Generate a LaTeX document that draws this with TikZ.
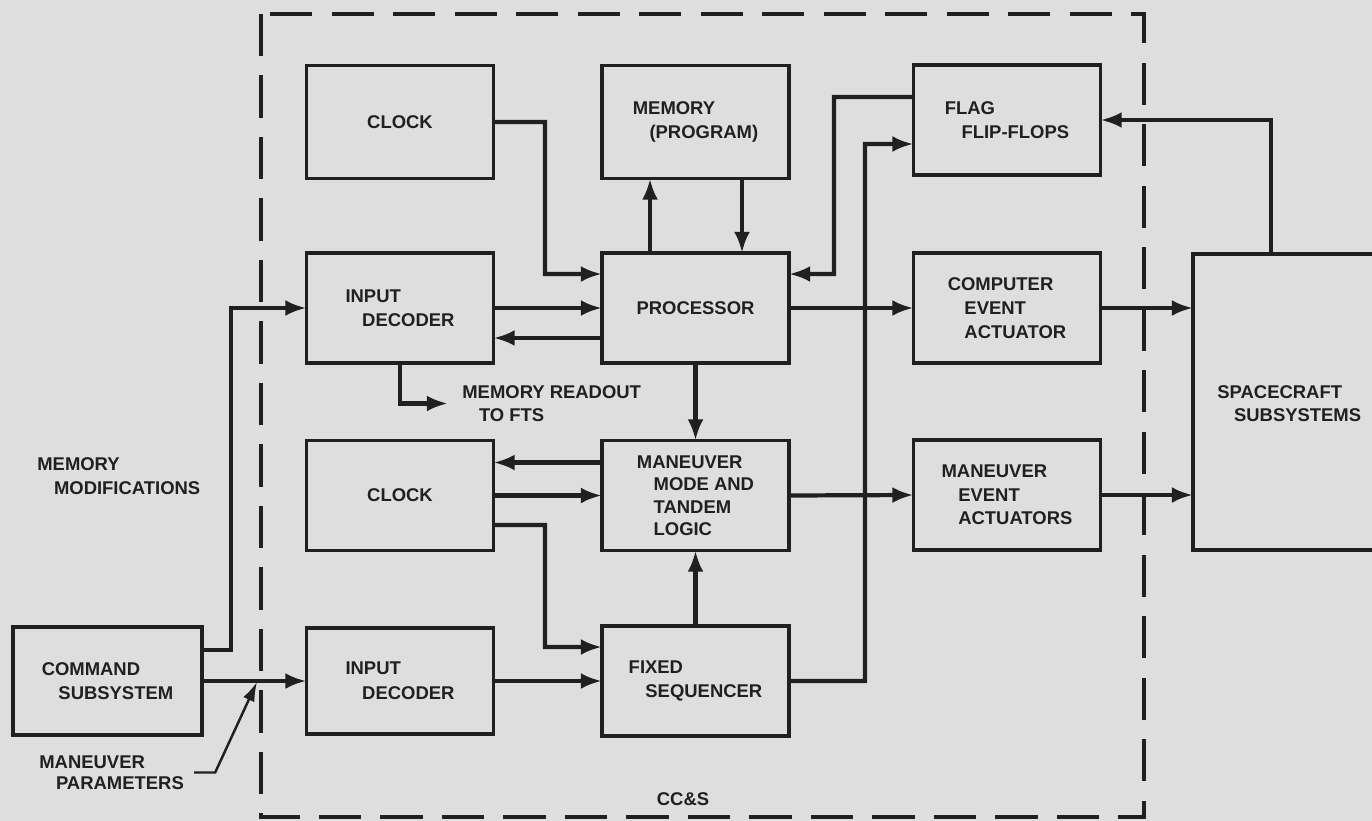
\documentclass[tikz,border=0pt]{standalone}
\usepackage{fontspec}
\setmainfont{Liberation Sans}
\usetikzlibrary{arrows.meta}
\definecolor{bg}{RGB}{222,222,222}
\definecolor{ink}{RGB}{32,32,32}
\newcommand{\myind}{\hspace*{9.5pt}}
\begin{document}
\begin{tikzpicture}[x=0.02cm, y=-0.02cm,
  box/.style={draw=ink, line width=2pt, minimum width=3.74cm, minimum height=2.2cm,
    inner sep=0pt, outer sep=0pt, text=ink, align=left,
    font=\bfseries\fontsize{10.5}{13.5}\selectfont},
  lbl/.style={text=ink, align=left, inner sep=0pt,
    font=\bfseries\fontsize{10.5}{13}\selectfont},
  arr/.style={draw=ink, line width=2.4pt, -{Latex[length=12pt,width=9pt]}},
  lead/.style={draw=ink, line width=1.4pt, -{Latex[length=11pt,width=7pt]}},
  cbound/.style={draw=ink, line width=1.8pt, dash pattern=on 24pt off 11pt}
]
\useasboundingbox (0,0) rectangle (1372,821);
\fill[bg] (0,0) rectangle (1372,821);
\clip (0,0) rectangle (1372,821);

% CC&S boundary
\draw[cbound] (261,14) rectangle (1144,817);

% boxes
\node[box, minimum height=2.26cm] (clock1) at (400,122) {CLOCK};
\node[box, minimum height=2.26cm] (mem) at (695.5,122) {MEMORY\\\myind(PROGRAM)};
\node[box] (flag) at (1007,120) {FLAG\\\myind FLIP-FLOPS};
\node[box] (dec1) at (400,308) {INPUT\\\myind DECODER};
\node[box] (proc) at (695.5,308) {PROCESSOR};
\node[box] (cea) at (1007,308) {COMPUTER\\\myind EVENT\\\myind ACTUATOR};
\node[box, minimum width=4.6cm, minimum height=5.92cm] (sc) at (1308,402) {};
\node[lbl, anchor=west] (sctxt) at (1217,403.5) {SPACECRAFT\\\myind SUBSYSTEMS};
\node[box] (clock2) at (400,495.5) {CLOCK};
\node[box, font=\bfseries\fontsize{10.5}{12.8}\selectfont] (man) at (695.5,495.5) {MANEUVER\\\myind MODE AND\\\myind TANDEM\\\myind LOGIC};
\node[box] (mea) at (1007,495) {MANEUVER\\\myind EVENT\\\myind ACTUATORS};
\node[box, minimum width=3.78cm, minimum height=2.16cm, font=\bfseries\fontsize{10.5}{14}\selectfont] (cmd) at (107.5,681) {COMMAND\\\myind SUBSYSTEM};
\node[box, minimum height=2.12cm, font=\bfseries\fontsize{10.5}{14}\selectfont] (dec2) at (400,681) {INPUT\\\myind DECODER};
\node[box, font=\bfseries\fontsize{10.5}{14}\selectfont] (fixed) at (695.5,681) {FIXED\\\myind SEQUENCER};

% free labels
\node[lbl, anchor=west, font=\bfseries\fontsize{10.5}{14}\selectfont] (mm) at (37,476) {MEMORY\\\myind MODIFICATIONS};
\node[lbl, anchor=west, font=\bfseries\fontsize{10.5}{12}\selectfont] (mp) at (39,772.5) {MANEUVER\\\myind PARAMETERS};
\node[lbl, anchor=west] (ro) at (462,403.5) {MEMORY READOUT\\\myind TO FTS};
\node[lbl] (ccs) at (683,799) {CC\&S};

% connectors
\draw[arr] (clock1.east) -| (545,274) -- ([yshift=0.68cm]proc.west);
\draw[arr] (dec1.east) -- (proc.west);
\draw[arr] ([yshift=-0.6cm]proc.west) -- ([yshift=-0.6cm]dec1.east);
\draw[arr] ([xshift=-0.91cm]proc.north) -- ([xshift=-0.91cm]mem.south);
\draw[arr] ([xshift=0.93cm]mem.south) -- ([xshift=0.93cm]proc.north);
\draw[arr] ([yshift=0.46cm]flag.west) -| (834,274) -- ([yshift=0.68cm]proc.east);
\draw[arr] (fixed.east) -| (865,144) -- ([yshift=-0.48cm]flag.west);
\draw[arr] (proc.east) -- (cea.west);
\draw[arr] (cea.east) -- (cea.east -| sc.west);
\draw[arr] ([xshift=-0.74cm]sc.north) |- (flag.east);
\draw[arr] (dec1.south) |- ([xshift=-0.28cm]ro.west);
\draw[arr] (proc.south) -- (man.north);
\draw[arr] ([yshift=0.66cm]man.west) -- ([yshift=0.66cm]clock2.east);
\draw[arr] (clock2.east) -- (man.west);
\draw[arr] ([yshift=-0.59cm]clock2.east) -| (545,647) -- ([yshift=0.68cm]fixed.west);
\draw[arr] (fixed.north) -- (man.south);
\draw[arr] (man.east) -- (mea.west);
\draw[arr] (mea.east) -- (mea.east -| sc.west);
\draw[arr] ([yshift=0.62cm]cmd.east) -| (231,308) -- (dec1.west);
\draw[arr] (cmd.east) -- (dec2.west);
\draw[arr] (dec2.east) -- (fixed.west);
\coordinate (mpt) at (257,682);
\draw[lead] ([xshift=0.2cm]mp.east) -- ++(21,0) -- (mpt);
\end{tikzpicture}
\end{document}
